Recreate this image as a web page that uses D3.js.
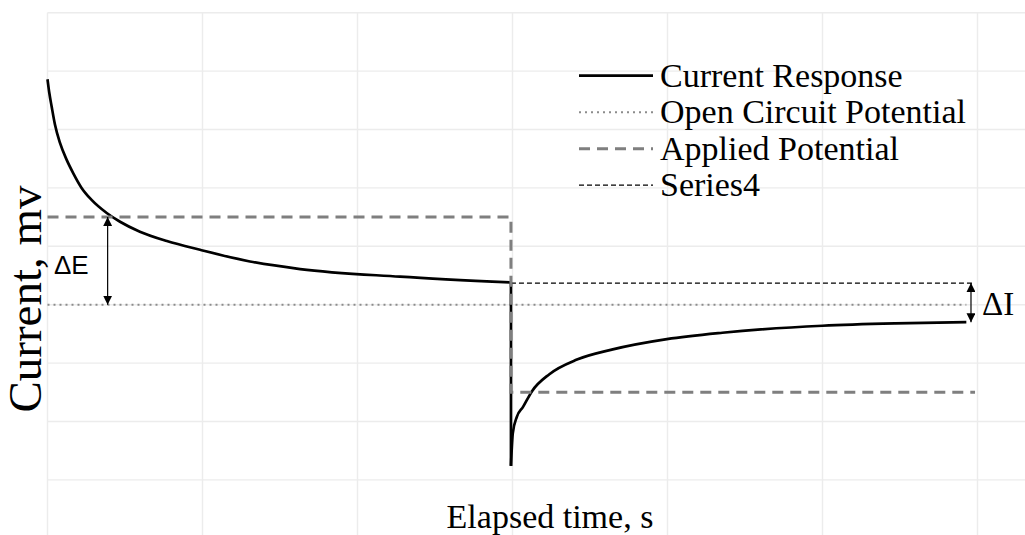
<!DOCTYPE html>
<html>
<head>
<meta charset="utf-8">
<script src="https://cdn.jsdelivr.net/npm/d3@7"></script>
<style>
  html, body { margin: 0; padding: 0; background: #fff; }
  svg { display: block; }
</style>
</head>
<body>
<svg id="chart" width="1025" height="535"></svg>
<script>
// Chronoamperometry-style step response: current decay after a potential step up, then down.

// Gridline positions (elapsed time and current units)
const xTicks = [0, 50, 100, 150, 200, 250, 300, 350];
const yTicks = [5, 4, 3, 2, 1, 0, -1, -2, -3, -4];

// Current response before the step (time, current)
const currentBefore = [
  [0, 3.86], [0.6, 3.62], [1.35, 3.39], [2.42, 3.08], [4.03, 2.77], [6.19, 2.48],
  [8.32, 2.25], [11.0, 2.00], [14.3, 1.79], [19.1, 1.57], [23.4, 1.42],
  [29.8, 1.25], [38.5, 1.09], [49.2, 0.94], [65.3, 0.74], [81.5, 0.61],
  [113.7, 0.48], [149.5, 0.38]
];
// Vertical drop at the step
const currentDrop = [[149.5, 0.38], [149.5, -2.76]];
// Current response after the step
const currentAfter = [
  [149.5, -2.76], [150.1, -2.20], [151.4, -1.92], [153.4, -1.75],
  [156.3, -1.48], [161.9, -1.19], [170.8, -0.94], [182, -0.77],
  [199.8, -0.59], [217.7, -0.48], [250, -0.36], [273.5, -0.32], [296.4, -0.30]
];
// Open circuit potential
const ocp = [[0, 0], [296.4, 0]];
// Applied potential square step
const applied = [[0, 1.5], [149.5, 1.5], [149.5, -1.5], [299.2, -1.5]];
// Series4: current level reached just before the step
const series4 = [[149.5, 0.37], [298.2, 0.37]];

// Delta annotations
const arrows = [
  { name: "ΔE", x: 19.4, y1: 1.5, y2: 0 },
  { name: "ΔI", x: 297.9, y1: 0.37, y2: -0.30 }
];

const legendLabels = ["Current Response", "Open Circuit Potential", "Applied Potential", "Series4"];

const svg = d3.select("#chart");
const margin = { left: 47.5, top: 12.7 };
const plotW = 1085, plotH = 525.6;

const x = d3.scaleLinear().domain([0, 350]).range([margin.left, margin.left + plotW]);
const y = d3.scaleLinear().domain([-4, 5]).range([margin.top + plotH, margin.top]);

// Gridlines
const grid = svg.append("g").attr("stroke", "#ececec").attr("stroke-width", 1.4);
grid.selectAll("line.h").data(yTicks).join("line")
  .attr("x1", x(0)).attr("x2", x(350))
  .attr("y1", d => y(d)).attr("y2", d => y(d));
grid.selectAll("line.v").data(xTicks).join("line")
  .attr("x1", d => x(d)).attr("x2", d => x(d))
  .attr("y1", y(5)).attr("y2", y(-4));

const line = d3.line().x(d => x(d[0])).y(d => y(d[1]));
const smooth = d3.line().x(d => x(d[0])).y(d => y(d[1])).curve(d3.curveMonotoneX);

// Open circuit potential (dotted)
svg.append("path").attr("d", line(ocp))
  .attr("fill", "none").attr("stroke", "#8c8c8c").attr("stroke-width", 2)
  .attr("stroke-dasharray", "2 4");

// Series4 (thin black dashes)
svg.append("path").attr("d", line(series4))
  .attr("fill", "none").attr("stroke", "#000").attr("stroke-width", 1.3)
  .attr("stroke-dasharray", "5 3");

// Current response
const cur = svg.append("g").attr("fill", "none").attr("stroke", "#000")
  .attr("stroke-width", 2.7).attr("stroke-linejoin", "round");
cur.append("path").attr("d", smooth(currentBefore));
cur.append("path").attr("d", line(currentDrop));
cur.append("path").attr("d", smooth(currentAfter));

// Applied potential (gray dashes)
svg.append("path").attr("d", line(applied))
  .attr("fill", "none").attr("stroke", "#7f7f7f").attr("stroke-width", 3)
  .attr("stroke-dasharray", "11 7");

// Double-headed arrows for ΔE and ΔI
const defs = svg.append("defs");
defs.append("marker").attr("id", "head").attr("viewBox", "0 0 10 10")
  .attr("refX", 10).attr("refY", 5).attr("markerWidth", 9).attr("markerHeight", 9)
  .attr("markerUnits", "userSpaceOnUse").attr("orient", "auto-start-reverse")
  .append("path").attr("d", "M0,0 L10,5 L0,10 Z").attr("fill", "#000");

svg.selectAll("line.arrow").data(arrows).join("line")
  .attr("class", "arrow")
  .attr("x1", d => x(d.x)).attr("x2", d => x(d.x))
  .attr("y1", d => y(d.y1)).attr("y2", d => y(d.y2))
  .attr("stroke", "#000").attr("stroke-width", 1.2)
  .attr("marker-start", "url(#head)").attr("marker-end", "url(#head)");

svg.append("text").text(arrows[0].name)
  .attr("x", 54).attr("y", 274)
  .attr("font-family", "'Liberation Sans', Arial, sans-serif").attr("font-size", 26);
svg.append("text").text(arrows[1].name)
  .attr("x", 982).attr("y", 315)
  .attr("font-family", "'Liberation Serif', 'Times New Roman', serif").attr("font-size", 33);

// Legend
const legendStyles = [
  { stroke: "#000", width: 2.7, dash: null },
  { stroke: "#8c8c8c", width: 2, dash: "2 4" },
  { stroke: "#7f7f7f", width: 3, dash: "11 7" },
  { stroke: "#000", width: 1.3, dash: "5 3" }
];
const legend = svg.append("g");
const rows = legend.selectAll("g").data(legendLabels).join("g")
  .attr("transform", (d, i) => `translate(0, ${86.7 + i * 36.5})`);
rows.append("line")
  .attr("x1", 579).attr("x2", 653).attr("y1", -11).attr("y2", -11)
  .attr("stroke", (d, i) => legendStyles[i].stroke)
  .attr("stroke-width", (d, i) => legendStyles[i].width)
  .attr("stroke-dasharray", (d, i) => legendStyles[i].dash);
rows.append("text").text(d => d)
  .attr("x", 660).attr("y", 0)
  .attr("font-family", "'Liberation Serif', 'Times New Roman', serif").attr("font-size", 34);

// Axis titles
svg.append("text").text("Elapsed time, s")
  .attr("x", 550).attr("y", 528).attr("text-anchor", "middle")
  .attr("font-family", "'Liberation Serif', 'Times New Roman', serif").attr("font-size", 34);
svg.append("text").text("Current, mv")
  .attr("transform", "translate(41, 299) rotate(-90)").attr("text-anchor", "middle")
  .attr("font-family", "'Liberation Serif', 'Times New Roman', serif").attr("font-size", 47);
</script>
</body>
</html>
